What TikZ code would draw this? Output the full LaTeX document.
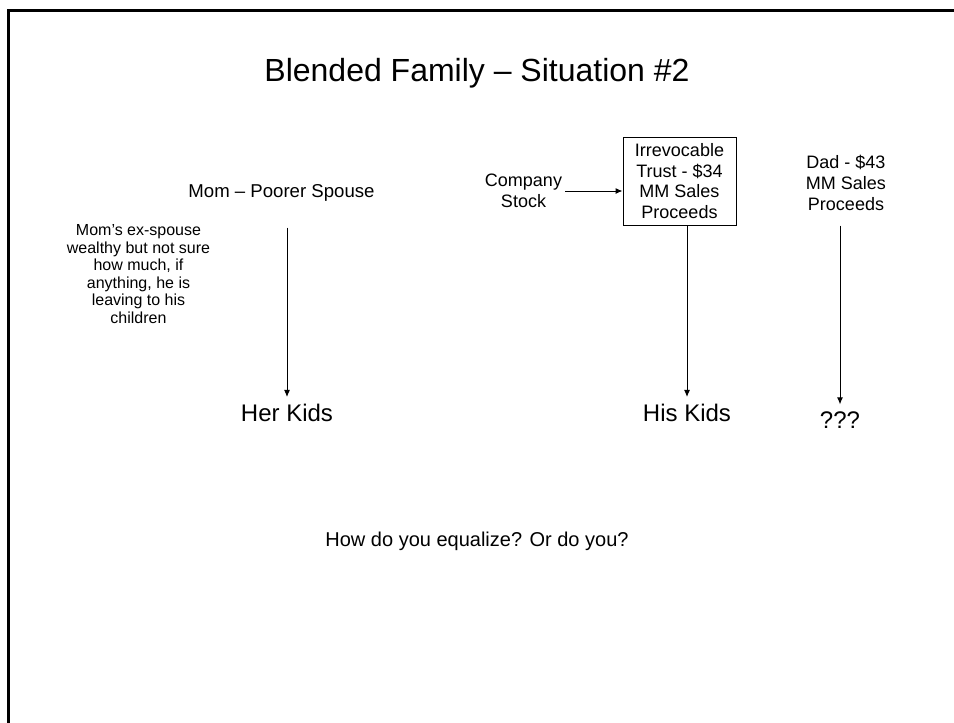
\documentclass[tikz,border=0pt]{standalone}
\usepackage{fontspec}
\setmainfont{Liberation Sans}
\usetikzlibrary{positioning, arrows.meta}

\begin{document}
\begin{tikzpicture}[x=1pt, y=-1pt,
	txt/.style={align=center, inner sep=1pt, font=\fontsize{18}{20.7}\selectfont},
	small/.style={align=center, inner sep=1pt, font=\fontsize{16}{17.5}\selectfont},
	big/.style={inner sep=1pt, font=\fontsize{24}{27}\selectfont},
	arr/.style={-{Latex[length=7pt, width=6pt]}, line width=1pt}]
	\useasboundingbox (0, 0) rectangle (954, 723);
	\draw[line width=3pt] (8, 723) -- (8, 10) -- (954, 10);
	\node[inner sep=1pt, font=\fontsize{32}{36}\selectfont] (title) at (477, 73) {Blended Family – Situation \#2};
	% left side
	\node[txt, font=\fontsize{18.6}{21}\selectfont] (mom) at (281.5, 193) {Mom – Poorer Spouse};
	\node[small] (exspouse) at (138.5, 274) {Mom’s ex-spouse\\wealthy but not sure\\how much, if\\anything, he is\\leaving to his\\children};
	\node[big] (herkids) at (287, 413) {Her Kids};
	\draw[arr, shorten <=25pt, shorten >=6pt] (herkids |- mom.south) -- (herkids.north);
	% right side
	\node[txt, draw, line width=1pt, inner sep=2pt, minimum width=113pt, minimum height=88pt] (trust) at (679.5, 181) {Irrevocable\\Trust - \$34\\MM Sales\\Proceeds};
	\node[txt] (company) at (523.5, 191) {Company\\Stock};
	\draw[arr, shorten <=2pt] (company.east) -- (company.east -| trust.west);
	\node[big] (hiskids) at (687, 413) {His Kids};
	\draw[arr, shorten >=6pt] (hiskids |- trust.south) -- (hiskids.north);
	\node[txt] (dad) at (846, 183) {Dad - \$43\\MM Sales\\Proceeds};
	\node[big] (unknown) at (840, 420) {???};
	\draw[arr, shorten <=14pt, shorten >=6pt] (unknown |- dad.south) -- (unknown.north);
	\node[inner sep=1pt, font=\fontsize{20}{24}\selectfont] (question) at (477, 541) {How do you equalize? Or do you?};
\end{tikzpicture}
\end{document}
